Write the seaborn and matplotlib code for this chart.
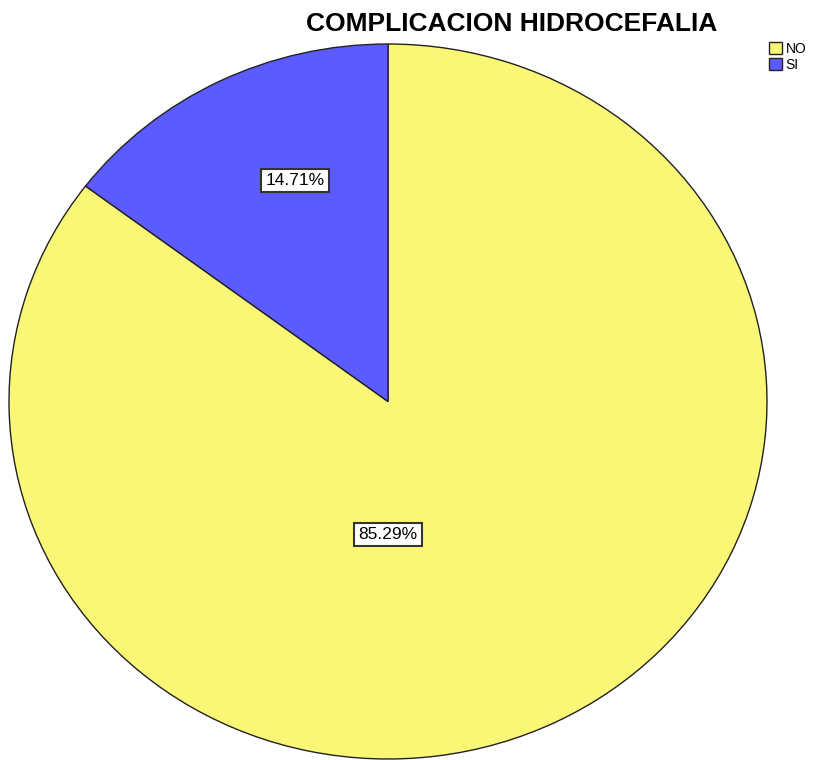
import numpy as np
import pandas as pd
import seaborn as sns
import matplotlib
matplotlib.use("Agg")
import matplotlib.pyplot as plt
from matplotlib.patches import Patch

# datos
categorias = ["NO", "SI"]
conteos = [29, 5]
colores = ["#FBF776", "#5B5BFF"]
titulo = "COMPLICACION HIDROCEFALIA"

sns.set_style("white")
plt.rcParams["font.family"] = ["Liberation Sans", "DejaVu Sans"]
plt.rcParams["text.color"] = "black"

fig = plt.figure(figsize=(8.2, 7.6), dpi=100)
ax = fig.add_axes([9 / 820, 1 / 760, 758 / 820, 715 / 760])

total = sum(conteos)
porcentajes = [c / total * 100 for c in conteos]

wedges, _ = ax.pie(conteos, colors=colores, startangle=90, counterclock=False,
                   wedgeprops=dict(edgecolor="#222222", linewidth=1.0))
ax.set_aspect("auto")
ax.set_xlim(-1, 1)
ax.set_ylim(-1, 1)

# etiquetas de porcentaje (posiciones como en SPSS)
pos_etiquetas = {"NO": (0.0, -0.372), "SI": (-0.246, 0.618)}
for cat, p in zip(categorias, porcentajes):
    x, y = pos_etiquetas[cat]
    ax.text(x, y, f"{p:.2f}%", ha="center", va="center", fontsize=12.5, color="black",
            bbox=dict(boxstyle="square,pad=0.25", fc="white", ec="#333333", lw=1.5))

fig.text(0.624, 0.968, titulo, ha="center", va="center", fontsize=19,
         fontweight="bold", color="black")

handles = [Patch(facecolor=c, edgecolor="#222222", label=l) for c, l in zip(colores, categorias)]
leg = fig.legend(handles=handles, loc="upper left", bbox_to_anchor=(0.938, 0.945), frameon=False,
                 fontsize=10, handlelength=0.95, handleheight=0.95, handletextpad=0.25,
                 labelspacing=0.15, borderaxespad=0, borderpad=0)
for t in leg.get_texts():
    t.set_color("black")

plt.savefig("out.png", dpi=100)
